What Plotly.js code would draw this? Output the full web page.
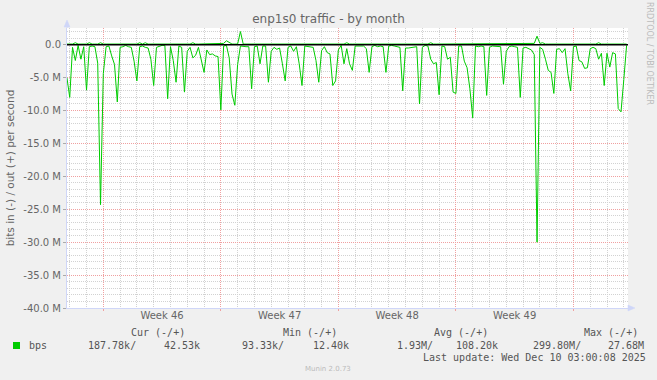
<!DOCTYPE html>
<html><head><meta charset="utf-8">
<script src="https://cdn.plot.ly/plotly-3.0.1.min.js"></script>
<style>html,body{margin:0;padding:0;background:#F0F0F0;overflow:hidden}#chart{width:657px;height:380px}</style>
</head><body><div id="chart"></div>
<script>
// ---- data (Mbit/s), one sample every 4 hours starting 2025-11-06 20:00 ----
const seriesStartUTC = [2025, 10, 6, 20];
const stepHours = 4;
const bpsIn = [
5.0,8.0,0.4,2.4,0.1,2.2,0.3,6.9,0.3,0.2,
0.3,2.8,24.3,4.4,0.3,0.2,1.7,3.0,8.7,0.4,
0.3,0.1,0.3,0.4,2.5,5.5,0.3,0.2,0.4,0.5,
2.2,6.2,0.4,0.2,0.1,0.1,8.2,0.3,2.4,5.7,
0.2,0.4,7.2,1.0,0.4,2.0,1.6,0.4,2.6,4.2,
0.8,1.5,1.4,1.7,1.8,9.9,0.2,0.1,2.0,7.5,
9.2,3.0,0.2,0.3,0.3,0.3,6.7,0.3,0.2,2.9,
0.2,0.2,5.7,1.0,0.4,0.7,0.5,2.9,5.5,0.4,
0.2,1.0,0.3,2.9,6.2,0.2,0.3,0.3,0.4,2.4,
5.7,0.9,0.3,1.2,1.4,6.2,5.5,0.8,0.1,2.9,
0.6,2.9,3.9,0.2,0.2,0.3,0.2,0.6,4.2,0.3,
0.1,0.3,0.2,0.3,4.2,0.2,0.1,0.2,0.3,0.4,
7.0,0.5,0.5,0.4,0.3,0.3,9.0,0.4,0.1,0.2,
2.2,2.9,2.7,7.6,0.2,0.3,2.2,1.9,7.2,7.4,
0.2,0.2,2.5,3.5,6.7,11.1,0.2,0.3,0.2,0.3,
7.7,0.4,0.2,0.2,0.3,0.3,6.0,1.0,0.3,0.2,
0.3,0.4,8.0,0.5,0.4,0.6,0.8,1.5,30.0,0.4,
0.7,2.2,3.9,4.2,7.4,0.7,0.6,1.2,0.6,4.4,
7.0,0.3,0.2,2.4,2.6,3.6,3.5,0.6,0.4,0.6,
2.2,1.3,6.2,1.3,3.4,1.2,1.4,9.7,10.2,5.3,
0.1];
const bpsOut = [
0.1,0.1,0.1,0.3,0.1,0.1,0.1,0.1,0.3,0.1,
0.1,0.1,0.3,0.1,0.1,0.1,0.1,0.1,0.1,0.1,
0.1,0.1,0.1,0.1,0.1,0.1,0.3,0.1,0.3,0.1,
0.1,0.1,0.1,0.1,0.1,0.1,0.1,0.1,0.1,0.1,
0.1,0.1,0.1,0.1,0.1,0.3,0.1,0.1,0.1,0.1,
0.1,0.1,0.1,0.1,0.1,0.1,0.2,0.6,0.3,0.1,
0.1,0.1,2.0,0.1,0.1,0.1,0.1,0.1,0.1,0.1,
0.1,0.1,0.1,0.1,0.1,0.1,0.1,0.1,0.1,0.1,
0.1,0.1,0.1,0.2,0.1,0.1,0.1,0.1,0.1,0.1,
0.1,0.1,0.1,0.1,0.1,0.1,0.1,0.1,0.1,0.1,
0.3,0.1,0.1,0.1,0.1,0.1,0.1,0.1,0.1,0.1,
0.1,0.1,0.1,0.1,0.1,0.1,0.1,0.1,0.1,0.1,
0.1,0.1,0.1,0.2,0.1,0.1,0.1,0.1,0.1,0.1,
0.3,0.1,0.1,0.1,0.1,0.1,0.1,0.1,0.1,0.1,
0.1,0.1,0.1,0.1,0.1,0.1,0.1,0.1,0.1,0.1,
0.1,0.1,0.1,0.1,0.1,0.1,0.1,0.1,0.1,0.1,
0.1,0.1,0.1,0.1,0.1,0.1,0.1,0.2,1.3,0.2,
0.3,0.1,0.1,0.1,0.1,0.1,0.1,0.1,0.1,0.1,
0.1,0.1,0.1,0.1,0.1,0.1,0.1,0.1,0.1,0.1,
0.3,0.1,0.1,0.1,0.1,0.1,0.1,0.1,0.1,0.1,
0.1];
const weekStarts = ['2025-11-09','2025-11-16','2025-11-23','2025-11-30','2025-12-07'];
const weekMids = ['2025-11-12 12:00','2025-11-19 12:00','2025-11-26 12:00','2025-12-03 12:00'];
const weekLabels = ['Week 46','Week 47','Week 48','Week 49'];
const yTickValsM = [0,-5,-10,-15,-20,-25,-30,-35,-40];
const yTickText = ['0.0','-5.0 M','-10.0 M','-15.0 M','-20.0 M','-25.0 M','-30.0 M','-35.0 M','-40.0 M'];
const legendHeaders = ['Cur (-/+)','Min (-/+)','Avg (-/+)','Max (-/+)'];
const legendValues = ['187.78k/','42.53k','93.33k/','12.40k','1.93M/','108.20k','299.80M/','27.68M'];
const seriesName = 'bps';
const lastUpdate = 'Last update: Wed Dec 10 03:00:08 2025';

// ---- build ----
function pad(n){return String(n).padStart(2,'0');}
const t0 = Date.UTC(seriesStartUTC[0],seriesStartUTC[1],seriesStartUTC[2],seriesStartUTC[3]);
const times = bpsIn.map((_,i)=>{const d=new Date(t0+i*stepHours*3600000);
  return d.getUTCFullYear()+'-'+pad(d.getUTCMonth()+1)+'-'+pad(d.getUTCDate())+' '+pad(d.getUTCHours())+':00:00';});
const xRange = ['2025-11-06 20:06','2025-12-10 06:00'];
const PL=67, PW=561, PT=28, PH=280;
const px = x => (x-PL)/PW, py = y => (PT+PH-y)/PH;
const GREEN = '#00CC00', FONT='#666666', AXIS='#CFD6F8';
const MINOR='#D2D2D2', MAJOR='#F0A0A0';
const mono = {family:'DejaVu Sans Mono', size:10, color:'#555555'};

const traces = [
 {x: times, y: bpsIn.map(v=>-v*1e6), type:'scatter', mode:'lines', line:{color:GREEN,width:1}, hoverinfo:'skip'},
 {x: times, y: bpsOut.map(v=>v*1e6), type:'scatter', mode:'lines', line:{color:GREEN,width:1}, hoverinfo:'skip'},
 {x: [weekMids[0]], y:[0], xaxis:'x2', type:'scatter', mode:'markers', marker:{opacity:0}, hoverinfo:'skip'}
];

const annotations = [];
const hdrLeft = [129,281,431.5,582];
legendHeaders.forEach((t,i)=>annotations.push({text:t, xref:'paper', yref:'paper', x:px(hdrLeft[i]), y:py(332), xanchor:'left', yanchor:'middle', showarrow:false, font:mono}));
const valLeft = [86,162,240,311,395,454,531,606];
legendValues.forEach((t,i)=>annotations.push({text:t, xref:'paper', yref:'paper', x:px(valLeft[i]), y:py(345), xanchor:'left', yanchor:'middle', showarrow:false, font:mono}));
annotations.push({text:seriesName, xref:'paper', yref:'paper', x:px(27), y:py(345), xanchor:'left', yanchor:'middle', showarrow:false, font:mono});
annotations.push({text:lastUpdate, xref:'paper', yref:'paper', x:px(421), y:py(357), xanchor:'left', yanchor:'middle', showarrow:false, font:mono});
annotations.push({text:'Munin 2.0.73', xref:'paper', yref:'paper', x:px(328), y:py(369), xanchor:'center', yanchor:'middle', showarrow:false, font:{family:'DejaVu Sans', size:7, color:'#BBBBBB'}});
annotations.push({text:'RRDTOOL / TOBI OETIKER', xref:'paper', yref:'paper', x:px(650), y:py(53), xanchor:'center', yanchor:'middle', textangle:90, showarrow:false, font:{family:'DejaVu Sans', size:8, color:'#BBBBBB'}});

const P = (x,y) => px(x)+','+py(y);
const layout = {
  width:657, height:380, margin:{l:PL, r:657-PL-PW, t:PT, b:380-PT-PH},
  paper_bgcolor:'#F0F0F0', plot_bgcolor:'#FFFFFF', showlegend:false,
  title:{text:'enp1s0 traffic - by month', font:{family:'DejaVu Sans', size:12, color:FONT}, xref:'container', x:0.5, xanchor:'center', yref:'container', y:1-18.5/380, yanchor:'middle'},
  xaxis:{type:'date', range:xRange, tickmode:'array', tickvals:weekStarts, showticklabels:false, ticks:'outside', ticklen:2, tickcolor:MAJOR,
    showgrid:true, gridcolor:MAJOR, griddash:'1px,1px', gridwidth:1,
    minor:{tickmode:'linear', tick0:'2025-11-09', dtick:86400000, showgrid:true, gridcolor:MINOR, griddash:'1px,1px', ticks:''},
    showline:true, linecolor:AXIS, zeroline:false, fixedrange:true},
  xaxis2:{type:'date', overlaying:'x', anchor:'y', side:'bottom', range:xRange, tickmode:'array', tickvals:weekMids, ticktext:weekLabels,
    showgrid:false, ticks:'', showline:false, zeroline:false, tickfont:{family:'DejaVu Sans', size:10, color:FONT}},
  yaxis:{range:[-40e6, 2.54e6], tickmode:'array', tickvals:yTickValsM.map(v=>v*1e6), ticktext:yTickText,
    tickfont:{family:'DejaVu Sans', size:10, color:FONT}, ticks:'outside', ticklen:3, tickcolor:'#AAAAAA',
    showgrid:true, gridcolor:MAJOR, griddash:'1px,1px',
    minor:{tickmode:'linear', tick0:0, dtick:1e6, showgrid:true, gridcolor:MINOR, griddash:'1px,1px', ticks:''},
    showline:true, linecolor:AXIS, zeroline:false, fixedrange:true,
    title:{text:'bits in (-) / out (+) per second', font:{family:'DejaVu Sans', size:10.5, color:FONT}, standoff:6}},
  shapes:[
    {type:'line', xref:'paper', yref:'y', x0:0, x1:1, y0:0, y1:0, line:{color:'#000000', width:1.5}, layer:'above'},
    {type:'rect', xref:'paper', yref:'paper', x0:px(13), x1:px(20), y0:py(349), y1:py(342), fillcolor:GREEN, line:{width:0}},
    {type:'line', xref:'paper', yref:'paper', x0:px(67), x1:px(67), y0:py(28), y1:py(23), line:{color:AXIS, width:1}},
    {type:'path', xref:'paper', yref:'paper', path:'M'+P(64,27)+' L'+P(67,20)+' L'+P(70,27)+' Z', fillcolor:AXIS, line:{color:AXIS, width:0.5}},
    {type:'line', xref:'paper', yref:'paper', x0:px(628), x1:px(632), y0:py(308), y1:py(308), line:{color:AXIS, width:1}},
    {type:'path', xref:'paper', yref:'paper', path:'M'+P(628,305)+' L'+P(635,308)+' L'+P(628,311)+' Z', fillcolor:AXIS, line:{color:AXIS, width:0.5}}
  ],
  annotations: annotations
};
Plotly.newPlot('chart', traces, layout, {staticPlot:true, displayModeBar:false});
</script></body></html>
